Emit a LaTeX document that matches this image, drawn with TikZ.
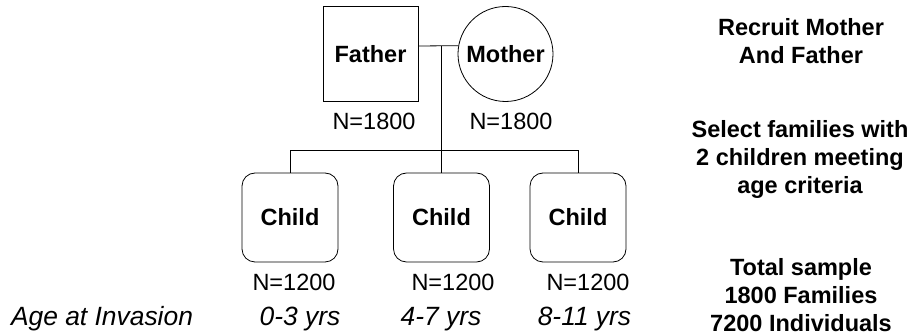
\documentclass[tikz,border=0pt]{standalone}
\usepackage{fontspec}
\setmainfont{Liberation Sans}
\begin{document}
\begin{tikzpicture}[x=0.5pt,y=-0.5pt,
	every node/.style={font=\fontsize{11.75}{14}\selectfont},
	father node/.style={rectangle,draw,thin,minimum size=47.5pt,font=\fontsize{11.75}{14}\selectfont\bfseries},
	mother node/.style={circle,draw,thin,minimum size=47.5pt,inner sep=0pt,font=\fontsize{11.75}{14}\selectfont\bfseries},
	child node/.style={rectangle,draw,thin,rounded corners=6.5pt,minimum width=48pt,minimum height=44.5pt,font=\fontsize{11.75}{14}\selectfont\bfseries},
	age label/.style={font=\fontsize{13.2}{15}\selectfont\itshape},
	step note/.style={align=center,font=\fontsize{11.75}{14}\selectfont\bfseries}
]
	\useasboundingbox (0,0) rectangle (909,335);

	% parents
	\node[father node] (father) at (370.5,54) {Father};
	\node[mother node] (mother) at (505.5,54) {Mother};
	\node (fatherN) at (374,121) {N=1800};
	\node (motherN) at (511,121) {N=1800};

	% children
	\node[child node] (child1) at (290,217.5) {Child};
	\node[child node] (child2) at (441.5,217.5) {Child};
	\node[child node] (child3) at (578,217.5) {Child};
	\node (child1N) at (294,282) {N=1200};
	\node (child2N) at (453,282) {N=1200};
	\node (child3N) at (588,282) {N=1200};

	% ages
	\node[age label] (agehead) at (102,319) {Age at Invasion};
	\node[age label] (age1) at (300,319) {0-3 yrs};
	\node[age label] (age2) at (441,319) {4-7 yrs};
	\node[age label] (age3) at (584.5,319) {8-11 yrs};

	% connectors
	\coordinate (marriage) at (441.5,46);
	\coordinate (bar) at (441.5,150);
	\draw[thin] (father.east |- marriage) -- (mother.170);
	\draw[thin] (marriage) -- (child2.north);
	\draw[thin] (child1.north) -- (child1.north |- bar) -- (child3.north |- bar) -- (child3.north);

	% steps
	\node[step note] (recruit) at (801,41) {Recruit Mother\\And Father};
	\node[step note] (select) at (800,159) {Select families with\\2 children meeting\\age criteria};
	\node[step note] (total) at (801,295) {Total sample\\1800 Families\\7200 Individuals};
\end{tikzpicture}
\end{document}
